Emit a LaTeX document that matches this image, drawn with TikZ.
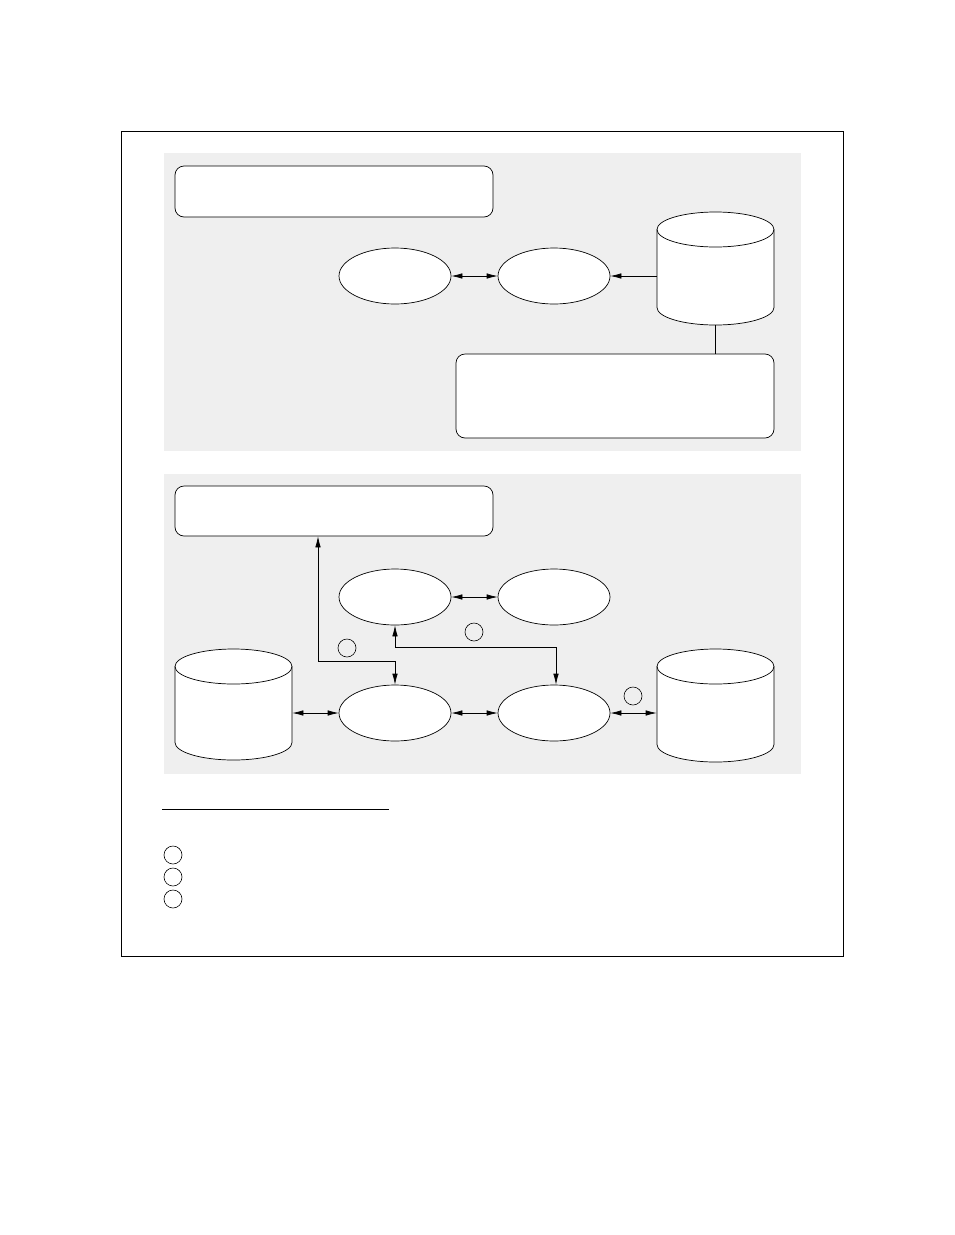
\documentclass[tikz,border=0pt]{standalone}
\usetikzlibrary{shapes.geometric,arrows.meta}
\definecolor{panelgray}{HTML}{EFEFEF}
\newcommand\drawcyl[5]{% cx, top, bottom, rx, ry
  \filldraw[fill=white] (#1-#4,#2+#5) -- (#1-#4,#3-#5)
    arc[start angle=180,end angle=360,x radius=#4pt,y radius=#5pt]
    -- (#1+#4,#2+#5)
    arc[start angle=0,end angle=180,x radius=#4pt,y radius=#5pt] -- cycle;
  \draw (#1-#4,#2+#5) arc[start angle=180,end angle=360,x radius=#4pt,y radius=#5pt];
}
\begin{document}
\begin{tikzpicture}[x=1pt,y=-1pt,line width=0.7pt,
  panel/.style={fill=panelgray,draw=none},
  rbox/.style={draw,fill=white,rounded corners=9pt,inner sep=0pt},
  oval/.style={draw,fill=white,ellipse,minimum width=112pt,minimum height=56pt,inner sep=0pt},
  cylbound/.style={draw=none,inner sep=0pt,minimum width=117pt},
  numcirc/.style={draw,circle,minimum size=18pt,inner sep=0pt,line width=0.6pt},
  dbl/.style={{Latex[length=11pt,width=5.5pt]}-{Latex[length=11pt,width=5.5pt]}},
  onearrow/.style={-{Latex[length=11pt,width=5.5pt]}},
]
\useasboundingbox (0,0) rectangle (954,1235);
\fill[white] (0,0) rectangle (954,1235);
% outer frame
\draw[line width=0.8pt] (121,131) rectangle (843,956);
% panels
\fill[panel] (164,153) rectangle (801,451);
\fill[panel] (164,474) rectangle (801,774);

% ---------- top panel ----------
\node[rbox,minimum width=318pt,minimum height=51pt] (b1) at (334,191.5) {};
\node[oval] (e1) at (395,276) {};
\node[oval] (e2) at (554,276) {};
\node[cylbound,minimum height=113pt] (cylT) at (715.5,268.5) {};
\drawcyl{715.5}{212}{325}{58.5}{17.5}
\node[rbox,minimum width=318pt,minimum height=84pt] (b2) at (615,396) {};
\draw[dbl] (e1) -- (e2);
\draw[onearrow] (cylT.west |- e2) -- (e2);
\draw (cylT.south) -- (cylT.south |- b2.north);

% ---------- bottom panel ----------
\node[rbox,minimum width=318pt,minimum height=50pt] (b3) at (334,511) {};
\node[oval] (e3) at (395,597) {};
\node[oval] (e4) at (554,597) {};
\node[oval] (e5) at (395,713) {};
\node[oval] (e6) at (554,713) {};
\node[cylbound,minimum height=111pt] (cylL) at (233.5,704.5) {};
\drawcyl{233.5}{649}{760}{58.5}{17.5}
\node[cylbound,minimum height=113pt] (cylR) at (715.5,705.5) {};
\drawcyl{715.5}{649}{762}{58.5}{17.5}

\draw[dbl] (e3) -- (e4);
\draw[dbl] (cylL.east |- e5) -- (e5);
\draw[dbl] (e5) -- (e6);
\draw[dbl] (e6) -- (cylR.west |- e6);
\coordinate (k1) at (318,661);
\draw[dbl] (b3.south -| k1) -- (k1) -- (k1 -| e5.north) -- (e5.north);
\coordinate (k2) at (556,647);
\draw[dbl] (e3.south) -- (e3.south |- k2) -- (k2) -- (k2 |- e6.north);

\node[numcirc] (c1) at (347,648) {};
\node[numcirc] (c2) at (474,632) {};
\node[numcirc] (c3) at (633,696) {};

% ---------- legend ----------
\coordinate (l1) at (162,809);
\coordinate (l2) at (389,809);
\draw (l1) -- (l2);
\node[numcirc] (n1) at (173,855) {};
\node[numcirc] (n2) at (173,877) {};
\node[numcirc] (n3) at (173,899) {};
\end{tikzpicture}
\end{document}
